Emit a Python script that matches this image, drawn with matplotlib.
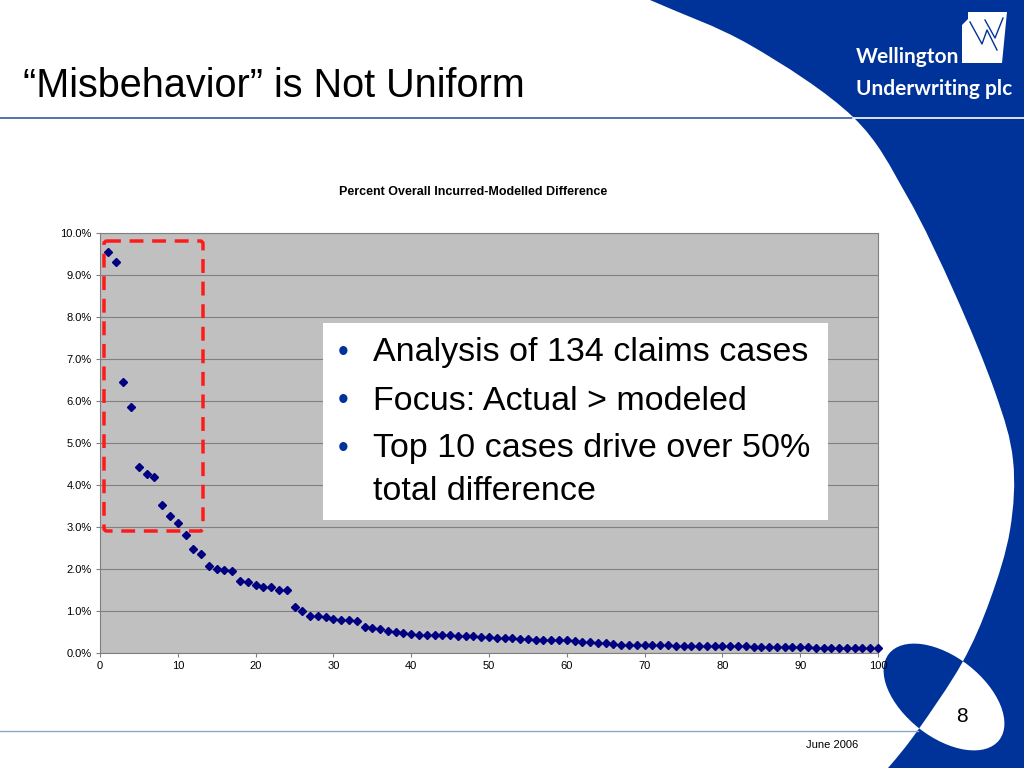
import numpy as np
import matplotlib.pyplot as plt
from matplotlib.patches import Polygon, Ellipse, Rectangle, FancyBboxPatch, PathPatch
from matplotlib.path import Path
from matplotlib.ticker import FuncFormatter

# datos (porcentaje de la diferencia total)
casos = list(range(1, 101))
diferencia = [9.55, 9.30, 6.45, 5.86, 4.44, 4.26, 4.19, 3.52, 3.27, 3.09,
              2.80, 2.48, 2.36, 2.08, 1.99, 1.98, 1.95, 1.71, 1.69, 1.61,
              1.58, 1.57, 1.51, 1.50, 1.10, 1.01, 0.87, 0.87, 0.85, 0.80,
              0.78, 0.78, 0.77, 0.63, 0.60, 0.56, 0.53, 0.50, 0.47, 0.46,
              0.44, 0.43, 0.43, 0.42, 0.42, 0.41, 0.41, 0.40, 0.38, 0.37,
              0.35, 0.35, 0.35, 0.34, 0.33, 0.32, 0.32, 0.31, 0.31, 0.30,
              0.29, 0.27, 0.26, 0.25, 0.24, 0.22, 0.20, 0.19, 0.19, 0.19,
              0.18, 0.18, 0.18, 0.17, 0.17, 0.17, 0.17, 0.17, 0.16, 0.16,
              0.16, 0.16, 0.16, 0.15, 0.15, 0.15, 0.14, 0.14, 0.14, 0.14,
              0.14, 0.13, 0.13, 0.13, 0.13, 0.12, 0.12, 0.12, 0.12, 0.12]
ticks_x = list(range(0, 101, 10))
ticks_y = list(range(0, 11))

titulo = '“Misbehavior” is Not Uniform'
titulo_grafica = 'Percent Overall Incurred-Modelled Difference'
puntos = ['Analysis of 134 claims cases',
          'Focus: Actual > modeled',
          'Top 10 cases drive over 50%\ntotal difference']

azul = '#003399'
plt.rcParams['font.family'] = ['Liberation Sans', 'DejaVu Sans']

fig = plt.figure(figsize=(10.24, 7.68), dpi=100)

# fondo de la diapositiva, en pixeles
fondo = fig.add_axes([0, 0, 1, 1], zorder=-1)
fondo.set_xlim(0, 1024)
fondo.set_ylim(768, 0)
fondo.axis('off')

# curva suave (catmull-rom a bezier) para el borde de la zona azul
borde = [(560, -40), (650, 0), (750, 45), (853, 117), (907, 196), (955, 294),
         (995, 392), (1013, 460), (1010, 530), (990, 600), (962, 663),
         (918, 730), (888, 768), (850, 810)]
verts = [borde[1]]
codes = [Path.MOVETO]
for i in range(1, len(borde) - 2):
    p0, p1, p2, p3 = [np.array(borde[j], float) for j in (i - 1, i, i + 1, i + 2)]
    verts += [tuple(p1 + (p2 - p0) / 6), tuple(p2 - (p3 - p1) / 6), tuple(p2)]
    codes += [Path.CURVE4] * 3
verts += [(1030, 775), (1030, -5), (650, -5), (650, 0)]
codes += [Path.LINETO, Path.LINETO, Path.LINETO, Path.CLOSEPOLY]
zona = PathPatch(Path(verts, codes), facecolor=azul, lw=0)
fondo.add_patch(zona)

ovalo = Ellipse((944, 697), 140, 80, angle=38, facecolor=azul, lw=0)
fondo.add_patch(ovalo)
ovalo2 = Ellipse((944, 697), 140, 80, angle=38, facecolor='white', lw=0)
fondo.add_patch(ovalo2)
ovalo2.set_clip_path(zona)

fondo.plot([0, 853], [118, 118], color='#3a5a96', lw=1.2)
fondo.plot([853, 1024], [118, 118], color='white', lw=1.2)
fondo.plot([0, 918], [731, 731], color='#8ea6cc', lw=1)

# logo
fondo.add_patch(Polygon([(962, 25), (968, 19), (968, 12), (1007, 12), (1002, 63), (962, 63)],
                        closed=True, facecolor='white', lw=0))
fondo.plot([970, 982, 987, 997], [22, 44, 30, 50], color=azul, lw=1)
fondo.plot([985, 995, 1003], [20, 38, 18], color=azul, lw=1)
fondo.text(856, 63, 'Wellington', color='white', fontsize=15, fontweight='bold',
           family='Lato', va='baseline')
fondo.text(856, 95, 'Underwriting plc', color='white', fontsize=15, fontweight='bold',
           family='Lato', va='baseline')

fondo.text(23, 97, titulo, fontsize=28.5, va='baseline')
fondo.text(473, 192, titulo_grafica, fontsize=9, fontweight='bold', ha='center', va='center')
fondo.text(962, 717, '8', fontsize=15, ha='center', va='center')
fondo.text(832, 745, 'June 2006', fontsize=8, ha='center', va='center')

# grafica de dispersion
ax = fig.add_axes([100/1024, 1 - 653/768, 778/1024, 420/768])
ax.set_facecolor('#c0c0c0')
ax.plot(casos, diferencia, 'D', color='#000080', ms=4.5, clip_on=False, zorder=3)
ax.set_xlim(0, 100)
ax.set_ylim(0, 10)
ax.set_xticks(ticks_x)
ax.set_yticks(ticks_y)
ax.yaxis.set_major_formatter(FuncFormatter(lambda v, p: f'{v:.1f}%'))
ax.grid(axis='y', color='#808080', lw=0.8)
ax.set_axisbelow(True)
for s in ax.spines.values():
    s.set_color('#808080')
ax.tick_params(labelsize=8, length=3, color='#808080', pad=3)

# recuadro de texto y caja roja
top = fig.add_axes([0, 0, 1, 1], zorder=5)
top.set_xlim(0, 1024)
top.set_ylim(768, 0)
top.axis('off')

top.add_patch(Rectangle((323, 323), 505, 197, facecolor='white', edgecolor='none'))
y = 353
for p in puntos:
    top.text(338, y, '•', color=azul, fontsize=22, va='center')
    for linea in p.split('\n'):
        top.text(373, y, linea, fontsize=24.5, va='center')
        y += 42
    y += 6

top.add_patch(FancyBboxPatch((104, 241), 99, 290, boxstyle='round,pad=0,rounding_size=3',
                             fill=False, edgecolor='#ff1a1a', lw=2.5,
                             linestyle=(0, (4, 2.5))))

fig.savefig('out.png', dpi=100)
